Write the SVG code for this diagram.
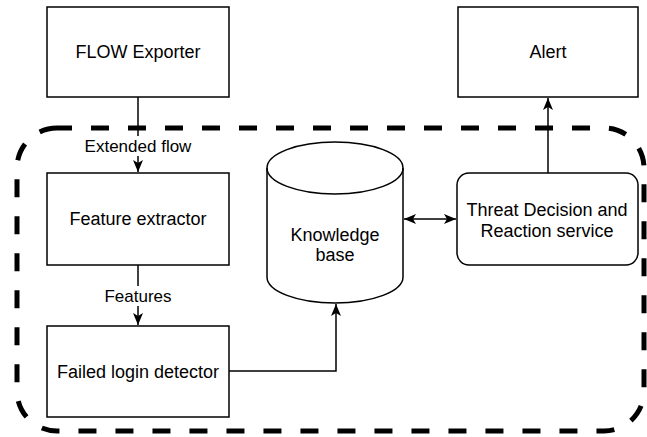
<svg xmlns="http://www.w3.org/2000/svg" width="647" height="437" viewBox="0 0 647 437">
<style>
.box{fill:#fff;stroke:#000;stroke-width:1.5}
.t{font-family:"Liberation Sans",Arial,Helvetica,sans-serif;font-size:18px;fill:#000;text-anchor:middle}
.lbl{font-family:"Liberation Sans",Arial,Helvetica,sans-serif;font-size:17px;fill:#000;text-anchor:middle}
.edge{fill:none;stroke:#000;stroke-width:1.5}
</style>
<defs>
<marker id="arr" markerUnits="userSpaceOnUse" markerWidth="12" markerHeight="10" refX="12" refY="5" orient="auto-start-reverse">
<path d="M0,0 L12,5 L0,10 L3,5 Z" fill="#000"/>
</marker>
</defs>
<rect id="boundary" x="17" y="128" width="627" height="303" rx="40" ry="40" fill="none" stroke="#000" stroke-width="5" stroke-dasharray="18 19" stroke-dashoffset="3"/>
<g id="connectors">
<path class="edge" d="M138,97 L138,172" marker-end="url(#arr)"/>
<rect x="80" y="136" width="116" height="20" fill="#fff"/>
<text class="lbl" x="138" y="152">Extended flow</text>
<path class="edge" d="M138,265 L138,325" marker-end="url(#arr)"/>
<rect x="103" y="286" width="70" height="20" fill="#fff"/>
<text class="lbl" x="138" y="302">Features</text>
<path class="edge" d="M229,371 L336,371 L336,304" marker-end="url(#arr)"/>
<path class="edge" d="M404,219 L456,219" marker-start="url(#arr)" marker-end="url(#arr)"/>
<path class="edge" d="M548,173 L548,98" marker-end="url(#arr)"/>
</g>
<g id="flow-exporter">
<rect class="box" x="47" y="7" width="182" height="90"/>
<text class="t" x="138" y="58">FLOW Exporter</text>
</g>
<g id="alert">
<rect class="box" x="458" y="7" width="180" height="90"/>
<text class="t" x="548" y="58">Alert</text>
</g>
<g id="feature-extractor">
<rect class="box" x="47" y="173" width="182" height="92"/>
<text class="t" x="138" y="225">Feature extractor</text>
</g>
<g id="failed-login-detector">
<rect class="box" x="47" y="326" width="182" height="91"/>
<text class="t" x="138" y="378">Failed login detector</text>
</g>
<g id="knowledge-base">
<path class="box" d="M267,168 A68,26 0 0 1 403,168 L403,277 A68,26 0 0 1 267,277 Z"/>
<path class="edge" d="M267,168 A68,26 0 0 0 403,168"/>
<text class="t" x="335" y="241">Knowledge</text>
<text class="t" x="335" y="261">base</text>
</g>
<g id="threat-decision">
<rect class="box" x="457" y="173" width="181" height="92" rx="12" ry="12"/>
<text class="t" x="547" y="216">Threat Decision and</text>
<text class="t" x="547" y="237">Reaction service</text>
</g>
</svg>
